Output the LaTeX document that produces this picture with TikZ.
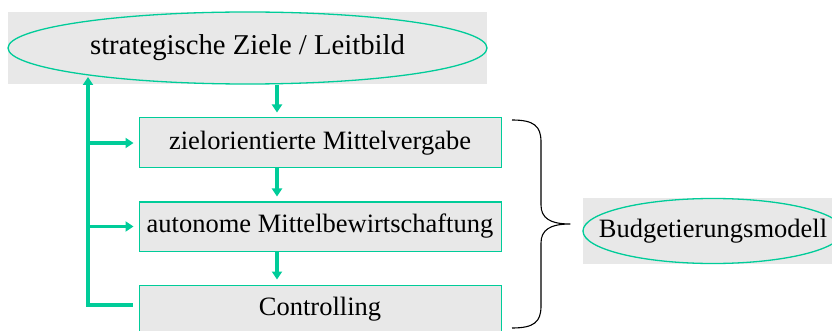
\documentclass[tikz,border=0pt]{standalone}
\usepackage{fontspec}
\setmainfont{Liberation Serif}
\usetikzlibrary{shapes.geometric,arrows.meta}
\definecolor{zielgruen}{RGB}{0,204,153}
\definecolor{hellgrau}{RGB}{232,232,232}

\begin{document}
\begin{tikzpicture}[x = 1pt,
                    y = -1pt,
                    color = {black}]
% styles
\tikzset{stufe/.style={rectangle,draw=zielgruen,fill=hellgrau,line width=1pt,
                       minimum width=362pt,inner sep=0pt,font=\fontsize{26.5}{30}\selectfont},
         oval/.style={ellipse,draw=zielgruen,line width=1.3pt,inner sep=0pt},
         fluss/.style={draw=zielgruen,line width=3.2pt,
                       arrows = -{Triangle[length=8pt,width=10pt]}}}
% frame
\useasboundingbox (0,0) rectangle (832,331);
\clip (0,0) rectangle (832,331);

% grey backgrounds of the ovals
\fill[hellgrau] (8,12) rectangle (487,84);
\fill[hellgrau] (583,198.5) rectangle (843,263.5);

% nodes
\node[oval,minimum width=479pt,minimum height=72pt,font=\fontsize{28.7}{32}\selectfont]
  (ziele) at (247.5,48) {strategische Ziele / Leitbild};
\node[stufe,minimum height=50pt] (vergabe) at (320,143) {zielorientierte Mittelvergabe};
\node[stufe,minimum height=49pt] (bewirt) at (320,226.5) {autonome Mittelbewirtschaftung};
\node[stufe,minimum height=48pt] (control) at (320,309) {Controlling};
\node[font=\fontsize{26.5}{30}\selectfont] (budget) at (713,231) {Budgetierungsmodell};
\draw[zielgruen,line width=1.3pt] (budget.center) ellipse [x radius=130, y radius=32.5];

% flow downwards
\coordinate (a1) at ([xshift=-43pt]vergabe.north);
\coordinate (a2) at ([xshift=-43pt]bewirt.north);
\coordinate (a3) at ([xshift=-43pt]control.north);
\draw[fluss,shorten >=5pt] (ziele.south -| a1) -- (a1);
\draw[fluss,shorten >=5pt] (vergabe.south -| a2) -- (a2);
\draw[fluss,shorten >=5pt] (bewirt.south -| a3) -- (a3);

% feedback
\coordinate (zrand) at (88,77);
\coordinate (rueck) at ([xshift=-6pt,yshift=4pt]control.west);
\draw[fluss,line join=miter] (rueck) -| (zrand);
\draw[fluss,shorten >=5pt] (zrand |- vergabe.west) -- (vergabe.west);
\draw[fluss,shorten >=5pt] (zrand |- bewirt.west) -- (bewirt.west);

% brace
\coordinate (k1) at (512,120);
\coordinate (k2) at (570,224);
\coordinate (k3) at (512,328);
\draw[line width=1.1pt,line join=round]
  (k1) .. controls (534,120) and (541,126) .. (541,142)
  -- (541,205) .. controls (541,218) and (550,224) .. (k2)
  .. controls (550,224) and (541,230) .. (541,243)
  -- (541,306) .. controls (541,322) and (534,328) .. (k3);
\end{tikzpicture}
\end{document}
